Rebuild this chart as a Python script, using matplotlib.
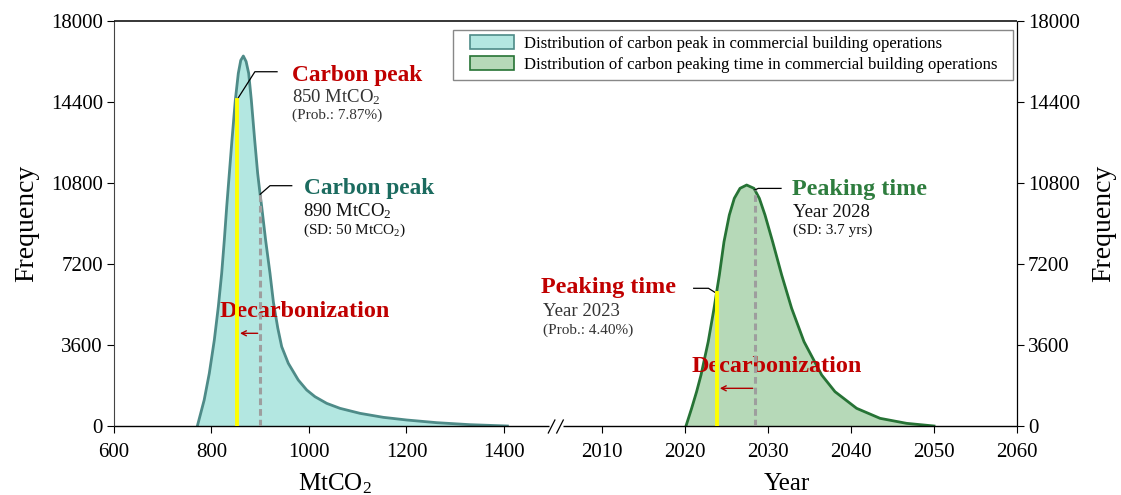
import matplotlib
matplotlib.use('Agg')
import numpy as np
import matplotlib.pyplot as plt
from matplotlib.patches import Patch, Rectangle
from matplotlib.lines import Line2D

plt.rcParams['font.family'] = ['Liberation Serif', 'DejaVu Serif']
plt.rcParams['mathtext.fontset'] = 'custom'
plt.rcParams['mathtext.rm'] = 'Liberation Serif'
plt.rcParams['mathtext.it'] = 'Liberation Serif:italic'
plt.rcParams['mathtext.bf'] = 'Liberation Serif:bold'

# ---- data ----
peak_x = [771, 785, 795.5, 805.8, 814, 820.9, 826.3, 831.2, 836.6, 842, 848.9,
          855, 860, 865.3, 871, 876.3, 881.7, 888.6, 894.7, 899.5, 903, 911, 920,
          927, 936, 944, 957.6, 978, 995.3, 1012.3, 1036.3, 1063.6, 1104.6,
          1152.4, 1200.4, 1262, 1330, 1407]
peak_freq = [0, 1155, 2342, 3822, 5302, 6786, 8266, 9746, 11230, 12710, 14488,
             15675, 16250, 16444, 16200, 15675, 14488, 12710, 11230, 10340, 9746,
             8266, 6786, 5500, 4350, 3526, 2785, 2044, 1600, 1303, 1007, 785, 563,
             385, 267, 148, 59, 0]

time_x = [2020.12, 2020.8, 2021.4, 2021.93, 2022.8, 2023.5, 2024.14, 2024.7,
          2025.34, 2025.94, 2026.63, 2027.43, 2028.31, 2028.96, 2029.64, 2030.56,
          2031.65, 2032.85, 2034.34, 2036.47, 2038.07, 2040.68, 2043.5, 2046.7,
          2050.0]
time_freq = [0, 785, 1526, 2266, 3748, 5230, 6711, 8190, 9377, 10118, 10563,
             10710, 10563, 10118, 9377, 8190, 6711, 5230, 3748, 2266, 1526, 785,
             341, 118, 0]

peak_target_x, peak_target_freq = 852, 14488       # 850 MtCO2 (yellow)
peak_mean_x, peak_mean_freq = 900, 10300           # 890 MtCO2 (dashed)
time_target_x, time_target_freq = 2023.8, 5896     # Year 2023 (yellow)
time_mean_x, time_mean_freq = 2028.39, 10488       # Year 2028 (dashed)

yticks = [0, 3600, 7200, 10800, 14400, 18000]
xticks_left = [600, 800, 1000, 1200, 1400]
xticks_right = [2010, 2020, 2030, 2040, 2050, 2060]

legend_labels = ['Distribution of carbon peak in commercial building operations',
                 'Distribution of carbon peaking time in commercial building operations']

# ---- styles ----
fill_L, edge_L = '#b3e7e1', '#4e8b88'
fill_R, edge_R = '#b6d9b8', '#267335'
red = '#c00000'
teal = '#1b6b5f'
green = '#2e7d3e'
sub = '#333333'
fs_cp, fs_pt, fs_dec = 16.8, 17.4, 17.4

W, H = 1121, 495
fig = plt.figure(figsize=(W / 100, H / 100), dpi=100)


def fx(px):
    return px / W


def fy(py):
    return 1 - py / H


axL = fig.add_axes([fx(114), fy(426), fx(556) - fx(114), fy(21) - fy(426)])
axR = fig.add_axes([fx(556), fy(426), fx(1017) - fx(556), fy(21) - fy(426)])

axL.set_xlim(600, 1506.7)
axR.set_xlim(2004.46, 2060)
for ax in (axL, axR):
    ax.set_ylim(0, 18000)
    ax.set_yticks(yticks)
    ax.tick_params(direction='out', length=5, width=0.8, labelsize=15, pad=3)
    ax.tick_params(axis='x', pad=7, top=False)
    ax.patch.set_alpha(0)
    for sp in ax.spines.values():
        sp.set_capstyle('butt')

axL.set_xticks(xticks_left)
axR.set_xticks(xticks_right)
axL.tick_params(axis='y', left=True, labelleft=True, right=False, labelright=False)
axR.tick_params(axis='y', left=False, labelleft=False, right=True, labelright=True)
axR.yaxis.set_label_position('right')

axL.spines['right'].set_visible(False)
axR.spines['left'].set_visible(False)
axL.spines['left'].set_color('#444444')
axL.spines['left'].set_linewidth(0.8)
for ax in (axL, axR):
    ax.spines['top'].set_linewidth(1.1)
    ax.spines['bottom'].set_linewidth(1.0)
axR.spines['right'].set_linewidth(0.9)
axL.spines['bottom'].set_bounds(600, 1492.3)
axR.spines['bottom'].set_bounds(2005.3, 2060)

axL.set_ylabel('Frequency', fontsize=20, labelpad=8)
axR.set_ylabel('Frequency', fontsize=20, labelpad=8, rotation=90)
axL.set_xlabel('MtCO$_2$', fontsize=18, labelpad=7)
axR.set_xlabel('Year', fontsize=18, labelpad=8)

# ---- distributions ----
axL.fill_between(peak_x, peak_freq, color=fill_L, lw=0, zorder=1)
axL.plot(peak_x, peak_freq, color=edge_L, lw=2.0, zorder=2, solid_joinstyle='round')
axR.fill_between(time_x, time_freq, color=fill_R, lw=0, zorder=1)
axR.plot(time_x, time_freq, color=edge_R, lw=2.0, zorder=2, solid_joinstyle='round')

# yellow (target) and dashed (mean) lines
axL.plot([peak_target_x, peak_target_x], [0, peak_target_freq], color='#ffff00', lw=2.8, zorder=6)
axL.plot([peak_mean_x, peak_mean_x], [0, peak_mean_freq], color='#9e9e9e', lw=2.2,
         dashes=(2.2, 1.3), zorder=6)
axR.plot([time_target_x, time_target_x], [0, time_target_freq], color='#ffff00', lw=2.8, zorder=6)
axR.plot([time_mean_x, time_mean_x], [0, time_mean_freq], color='#9e9e9e', lw=2.2,
         dashes=(2.2, 1.3), zorder=6)

# leader lines
axL.plot([peak_target_x, 889, 934.5], [peak_target_freq, 15745, 15745], color='black', lw=0.9, zorder=5)
axL.plot([peak_mean_x, 920, 964.6], [peak_mean_freq, 10680, 10680], color='black', lw=0.9, zorder=5)
axR.plot([time_mean_x, 2028.83, 2031.57], [time_mean_freq, 10560, 10560], color='black', lw=0.9, zorder=5)
axR.plot([time_target_x, 2022.83, 2021.05], [time_target_freq, 6120, 6120], color='black', lw=0.9,
         zorder=5, clip_on=False)

# annotations - left
axL.text(965, 15350, 'Carbon peak', color=red, fontsize=fs_cp, fontweight='bold', va='baseline')
axL.text(964.5, 14370, '850 MtCO$_2$', color=sub, fontsize=13.5, va='baseline')
axL.text(964.5, 13630, '(Prob.: 7.87%)', color=sub, fontsize=11, va='baseline')
axL.text(989.5, 10300, 'Carbon peak', color=teal, fontsize=fs_cp, fontweight='bold', va='baseline')
axL.text(988, 9340, '890 MtCO$_2$', color='#111111', fontsize=13.5, va='baseline')
axL.text(988, 8520, '(SD: 50 MtCO$_2$)', color='#111111', fontsize=11, va='baseline')
axL.text(817.4, 4857, 'Decarbonization', color=red, fontsize=fs_dec, fontweight='bold',
         va='baseline', zorder=4)
axL.annotate('', xy=(858.5, 4120), xytext=(894.7, 4120), zorder=5,
             arrowprops=dict(arrowstyle='->,head_length=0.35,head_width=0.18', color='#b00000',
                             lw=1.0, shrinkA=0, shrinkB=0))

# annotations - right
axR.text(2032.85, 10266, 'Peaking time', color=green, fontsize=fs_pt, fontweight='bold', va='baseline')
axR.text(2032.97, 9303, 'Year 2028', color='#111111', fontsize=13.5, va='baseline')
axR.text(2032.97, 8519, '(SD: 3.7 yrs)', color='#111111', fontsize=11, va='baseline')
axR.text(2002.7, 5897, 'Peaking time', color=red, fontsize=fs_pt, fontweight='bold', va='baseline')
axR.text(2002.85, 4889, 'Year 2023', color=sub, fontsize=13.5, va='baseline')
axR.text(2002.85, 4075, '(Prob.: 4.40%)', color=sub, fontsize=11, va='baseline')
axR.text(2020.8, 2413, 'Decarbonization', color=red, fontsize=fs_dec, fontweight='bold',
         va='baseline', zorder=4)
axR.annotate('', xy=(2024.2, 1675), xytext=(2028.16, 1675), zorder=5,
             arrowprops=dict(arrowstyle='->,head_length=0.35,head_width=0.18', color='#b00000',
                             lw=1.0, shrinkA=0, shrinkB=0))

# axis break marks
for x0 in (548.3, 556.7):
    fig.add_artist(Line2D([fx(x0), fx(x0 + 6.6)], [fy(433), fy(420)], color='black', lw=0.9))

# cover the small stub above the top spine at the panel junction
fig.add_artist(Rectangle((fx(550), fy(20.2)), fx(12), fy(10) - fy(20.2),
                         facecolor='white', edgecolor='none', zorder=100))

# legend frame (drawn by hand for its wide side margins) and entries
fig.add_artist(Rectangle((fx(453), fy(80)), fx(1013) - fx(453), fy(30) - fy(80),
                         facecolor='white', edgecolor='#888888', lw=1.0, zorder=50))
handles = [Patch(facecolor=fill_L, edgecolor=edge_L, lw=1.2),
           Patch(facecolor=fill_R, edgecolor=edge_R, lw=1.2)]
leg = fig.legend(handles, legend_labels, loc='upper left',
                 bbox_to_anchor=(fx(470), fy(35.5)), fontsize=12.05, frameon=False,
                 handlelength=2.65, handleheight=0.9, labelspacing=0.22,
                 borderpad=0, handletextpad=0.6, borderaxespad=0)
leg.set_zorder(60)

fig.savefig('out.png', dpi=100)
